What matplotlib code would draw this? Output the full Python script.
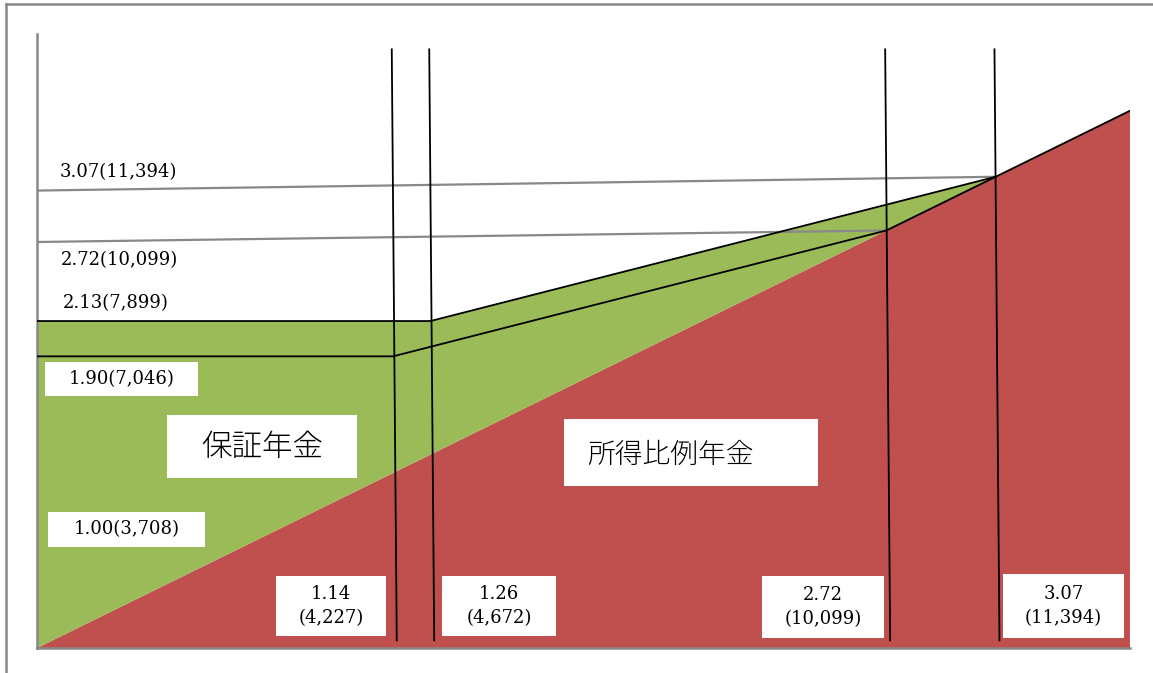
import matplotlib
matplotlib.use("Agg")
import matplotlib.pyplot as plt
from matplotlib.patches import Polygon, Rectangle
from matplotlib.lines import Line2D

# Income ratios (relative to the base level) where the schedule changes
break_ratios = [1.14, 1.26, 2.72, 3.07]
break_yen = ["4,227", "4,672", "10,099", "11,394"]

# Guaranteed-pension levels
base_ratio, base_yen = 1.00, "3,708"
lower_level, lower_yen = 1.90, "7,046"
upper_level, upper_yen = 2.13, "7,899"

# Reference (slightly tilted) guide lines: value at left edge, value at meeting point
guide_upper = (2.98, 3.07)
guide_lower = (2.645, 2.72)

# Right end of the earnings-related pension line
line_end = 3.5

RED = "#C0504D"
GREEN = "#9BBB59"
GRAY = "#888888"
SERIF = "DejaVu Serif"
JP = ["Noto Sans CJK JP", "DejaVu Sans"]
FS = 13

fig = plt.figure(figsize=(11.53, 6.73), dpi=100)
fig.patch.set_facecolor("white")

# outer frame (left and top edges)
fig.add_artist(Line2D([6 / 1153, 6 / 1153], [0, 1 - 4 / 673], color=GRAY, lw=1.8,
                      transform=fig.transFigure))
fig.add_artist(Line2D([6 / 1153, 1], [1 - 4 / 673, 1 - 4 / 673], color=GRAY, lw=1.8,
                      transform=fig.transFigure))

ax = fig.add_axes([37 / 1153, 25 / 673, 1093 / 1153, 614 / 673])
ax.set_xlim(0, line_end)
ax.set_ylim(0, 4.0)
ax.set_xticks([])
ax.set_yticks([])
for s in ("top", "right"):
    ax.spines[s].set_visible(False)
for s in ("left", "bottom"):
    ax.spines[s].set_color(GRAY)
    ax.spines[s].set_linewidth(1.8)

r_lo, r_up = break_ratios[2], break_ratios[3]
k_lo, k_up = break_ratios[0], break_ratios[1]

# earnings-related pension (red triangle)
ax.add_patch(Polygon([(0, 0), (line_end, line_end), (line_end, 0)], closed=True,
                     facecolor=RED, edgecolor="none", zorder=1))
# guaranteed pension (green region above the red line)
ax.add_patch(Polygon([(0, 0), (0, upper_level), (k_up, upper_level), (r_up, r_up)],
                     closed=True, facecolor=GREEN, edgecolor="none", zorder=1))

# schedule lines
ax.plot([0, k_up, r_up, line_end], [upper_level, upper_level, r_up, line_end],
        color="black", lw=1.3, zorder=3, solid_joinstyle="miter")
ax.plot([0, k_lo, r_lo, r_up], [lower_level, lower_level, r_lo, r_up],
        color="black", lw=1.3, zorder=3, solid_joinstyle="miter")

# gray guide lines toward the meeting points
ax.plot([0, r_up], list(guide_upper), color=GRAY, lw=1.6, zorder=2)
ax.plot([0, r_lo], list(guide_lower), color=GRAY, lw=1.6, zorder=2)

# vertical markers at the break points (slightly tilted)
for b in break_ratios:
    ax.plot([b - 0.004, b + 0.012], [3.9, 0.05], color="black", lw=1.3, zorder=4)


def box(x0, x1, y0, y1):
    ax.add_patch(Rectangle((x0, y0), x1 - x0, y1 - y0, facecolor="white",
                           edgecolor="none", zorder=5))


# labels above the fill
ax.text(0.074, 3.10, f"{r_up:.2f}({break_yen[3]})", family=SERIF, fontsize=FS,
        ha="left", va="center", zorder=6)
ax.text(0.077, 2.53, f"{r_lo:.2f}({break_yen[2]})", family=SERIF, fontsize=FS,
        ha="left", va="center", zorder=6)
ax.text(0.083, 2.25, f"{upper_level:.2f}({upper_yen})", family=SERIF, fontsize=FS,
        ha="left", va="center", zorder=6)

# boxed labels on the left
box(0.026, 0.516, 1.642, 1.863)
ax.text(0.271, 1.752, f"{lower_level:.2f}({lower_yen})", family=SERIF, fontsize=FS,
        ha="center", va="center", zorder=6)
box(0.035, 0.538, 0.658, 0.886)
ax.text(0.2865, 0.772, f"{base_ratio:.2f}({base_yen})", family=SERIF, fontsize=FS,
        ha="center", va="center", zorder=6)

# region names
box(0.416, 1.025, 1.107, 1.518)
ax.text(0.7205, 1.312, "保証年金", family=JP, fontsize=22, fontweight="light",
        ha="center", va="center", zorder=6)
box(1.687, 2.501, 1.055, 1.492)
ax.text(2.030, 1.255, "所得比例年金", family=JP, fontsize=20, fontweight="light",
        ha="center", va="center", zorder=6)

# break-point labels along the bottom
bottom_boxes = [(0.765, 1.118, 0.078, 0.469), (1.297, 1.662, 0.078, 0.469),
                (2.321, 2.712, 0.065, 0.469), (3.093, 3.481, 0.065, 0.482)]
for (x0, x1, y0, y1), b, yen in zip(bottom_boxes, break_ratios, break_yen):
    box(x0, x1, y0, y1)
    ax.text((x0 + x1) / 2, (y0 + y1) / 2, f"{b:.2f}\n({yen})", family=SERIF,
            fontsize=FS, ha="center", va="center", linespacing=1.4, zorder=6)

fig.savefig("out.png", dpi=100, facecolor="white")
